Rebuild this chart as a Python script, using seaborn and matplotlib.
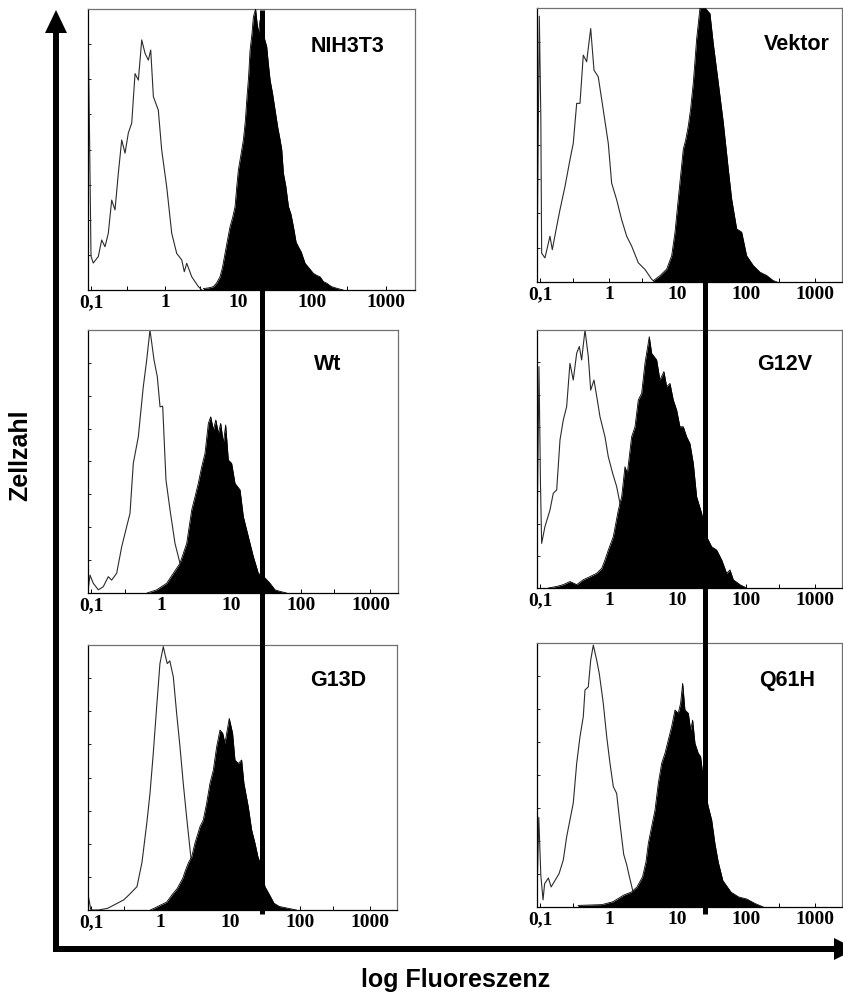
import numpy as np
import pandas as pd
import matplotlib
matplotlib.use("Agg")
import matplotlib.pyplot as plt
import matplotlib.transforms as mtransforms
from matplotlib.lines import Line2D
from matplotlib.ticker import NullFormatter
import seaborn as sns

sns.set_theme(style="white")
plt.rcParams["font.family"] = ["Liberation Sans", "DejaVu Sans"]
plt.rcParams["text.color"] = "black"
plt.rcParams["xtick.color"] = "black"
plt.rcParams["ytick.color"] = "black"
plt.rcParams["axes.labelcolor"] = "black"

# ---------------- data (log10 fluorescence, relative cell count) ----------------
tick_values = [0.1, 1, 10, 100, 1000]
tick_labels = ["0,1", "1", "10", "100", "1000"]
panel_names = ["NIH3T3", "Vektor", "Wt", "G12V", "G13D", "Q61H"]
threshold = [28, 25]   # left column, right column

nih_ctrl_log = [-1.040, -1.025, -1.005, -0.974, -0.906, -0.860, -0.815, -0.770, -0.724, -0.679, -0.634,
                -0.588, -0.543, -0.498, -0.452, -0.407, -0.362, -0.316, -0.271, -0.226, -0.194, -0.158,
                -0.091, -0.045, 0.023, 0.091, 0.159, 0.227, 0.262, 0.295, 0.363, 0.453, 0.500]
nih_ctrl_cnt = [85, 55, 12, 9.6, 11.9, 17.8, 15.4, 20.2, 32, 28.5, 41.5, 53.4, 48.7, 55.9, 59.4, 77, 74.7,
                89, 84.2, 81.8, 85.4, 68.8, 64, 49.8, 36.7, 20.2, 13, 10.7, 6.5, 9.5, 4.7, 1.2, 0]
nih_stain_log = [0.520, 0.600, 0.657, 0.700, 0.747, 0.780, 0.815, 0.850, 0.883, 0.920, 0.951, 0.975, 0.996,
                 1.030, 1.064, 1.090, 1.110, 1.135, 1.155, 1.180, 1.200, 1.230, 1.250, 1.268, 1.290, 1.313,
                 1.345, 1.381, 1.405, 1.427, 1.460, 1.495, 1.530, 1.563, 1.585, 1.608, 1.640, 1.676, 1.710,
                 1.744, 1.780, 1.811, 1.850, 1.902, 1.950, 2.015, 2.060, 2.106, 2.150, 2.197, 2.260, 2.333,
                 2.420]
nih_stain_cnt = [0.5, 0.8, 1.2, 2.5, 4.7, 8, 13, 18, 22.5, 26, 29.7, 37, 42.7, 48, 53.4, 60, 67.6, 76, 85.4,
                 91, 97.2, 100, 95, 91.3, 96, 93.7, 90, 86.6, 80, 74.7, 70, 64, 58, 53.4, 50, 41.5, 37, 29.7,
                 27, 22.5, 17, 15.4, 13.5, 9.5, 8, 5.9, 5.2, 4.7, 3.0, 2.4, 1.2, 0.6, 0]

vek_ctrl_log = [-1.040, -1.012, -0.990, -0.978, -0.930, -0.857, -0.823, -0.759, -0.711, -0.638, -0.566,
                -0.518, -0.468, -0.420, -0.372, -0.323, -0.264, -0.216, -0.154, -0.081, -0.008, 0.041,
                0.114, 0.187, 0.260, 0.332, 0.429, 0.526, 0.623, 0.670]
vek_ctrl_cnt = [20, 97, 60, 10.5, 8.8, 16.7, 11.8, 20.3, 26.4, 34.9, 44.6, 50.6, 65.2, 65.2, 82.8, 80.4, 92.5,
                77.3, 74.9, 62.8, 50.6, 36.1, 30, 22.7, 16.7, 13.1, 7, 4.6, 1, 0]
vek_stain_log = [0.647, 0.744, 0.842, 0.915, 0.963, 1.011, 1.084, 1.120, 1.157, 1.190, 1.230, 1.278, 1.327,
                 1.400, 1.472, 1.520, 1.593, 1.666, 1.739, 1.788, 1.861, 1.934, 2.006, 2.103, 2.200, 2.297,
                 2.394, 2.450]
vek_stain_cnt = [0.5, 2.3, 4.7, 9.6, 18.1, 30.3, 48.5, 52, 57, 63, 72.8, 88.6, 100, 100, 98, 87.1, 72.8,
                 58.3, 41.2, 30.3, 19.4, 18.2, 9.6, 6, 3.6, 2.4, 0.5, 0]

wt_ctrl_log = [-1.040, -1.017, -0.970, -0.898, -0.827, -0.755, -0.707, -0.635, -0.563, -0.492, -0.444,
               -0.397, -0.325, -0.254, -0.205, -0.158, -0.100, -0.053, -0.014, 0.024, 0.071, 0.129, 0.200,
               0.272, 0.344, 0.415, 0.460]
wt_ctrl_cnt = [2, 6.8, 3.7, 1.2, 2.4, 6.2, 4.9, 7.5, 17.6, 25.2, 30.3, 49.3, 59.4, 78.4, 88.6, 100, 88.6,
               82.2, 70.8, 71, 43, 31.6, 18.9, 11.3, 6.2, 1, 0]
wt_stain_log = [-0.200, -0.062, 0.081, 0.176, 0.272, 0.368, 0.440, 0.487, 0.534, 0.583, 0.630, 0.678, 0.712,
                0.750, 0.785, 0.821, 0.855, 0.893, 0.926, 0.964, 1.012, 1.060, 1.132, 1.179, 1.250, 1.322,
                1.394, 1.490, 1.561, 1.633, 1.705, 1.800]
wt_stain_cnt = [0, 1.2, 3.7, 7.5, 11.3, 18.9, 31.6, 36.6, 41.7, 48, 53.1, 64.5, 67, 62, 65.8, 60.7, 64.5,
                57, 63.9, 50.6, 49.3, 41.7, 39.2, 29.1, 21.5, 13.9, 7.5, 5.7, 3.7, 1.2, 0.6, 0]

g12v_ctrl_log = [-1.040, -1.017, -0.995, -0.978, -0.930, -0.857, -0.809, -0.759, -0.711, -0.663, -0.614,
                 -0.566, -0.518, -0.468, -0.430, -0.396, -0.347, -0.299, -0.264, -0.216, -0.168, -0.129,
                 -0.056, -0.008, 0.056, 0.114, 0.162, 0.235, 0.308, 0.380, 0.450]
g12v_ctrl_cnt = [30, 85.8, 40, 17.3, 23.8, 30.2, 36.7, 38, 57.4, 65.1, 70.3, 87.1, 80.6, 91, 93.6, 88.4,
                 100, 89.7, 76.7, 80.6, 72.9, 66.4, 58.6, 50.9, 44.4, 39.3, 32.8, 20, 9.7, 2, 0]
g12v_stain_log = [-0.880, -0.759, -0.663, -0.566, -0.468, -0.372, -0.275, -0.178, -0.104, -0.056, -0.008,
                  0.065, 0.138, 0.187, 0.235, 0.269, 0.332, 0.381, 0.429, 0.478, 0.526, 0.589, 0.623, 0.696,
                  0.744, 0.802, 0.842, 0.890, 0.938, 0.987, 1.035, 1.084, 1.133, 1.181, 1.230, 1.278, 1.351,
                  1.424, 1.497, 1.570, 1.643, 1.715, 1.764, 1.812, 1.909, 2.006]
g12v_stain_cnt = [0, 0.6, 1.3, 2.5, 1.3, 3.2, 4.4, 5.7, 7.6, 10.9, 14.7, 19.9, 30.2, 35.4, 47, 44.4, 58.6,
                  62.5, 72.9, 75.5, 87.1, 97.4, 91, 88.4, 80.6, 83.9, 78, 79.3, 72.9, 69, 62.5, 62.5, 58.6,
                  56, 48.3, 35.4, 29, 19.9, 16, 14.7, 10.9, 5.7, 7, 3.2, 1.3, 0]

g13d_ctrl_log = [-1.040, -1.025, -1.005, -0.900, -0.766, -0.533, -0.457, -0.342, -0.270, -0.200, -0.155,
                 -0.108, -0.059, -0.012, 0.036, 0.065, 0.093, 0.130, 0.180, 0.228, 0.276, 0.323, 0.371,
                 0.432, 0.506, 0.560]
g13d_ctrl_cnt = [5, 3, 0, 0, 0.6, 3.8, 5.7, 8.8, 18, 33, 44, 59.1, 76.7, 93, 99.4, 96, 93, 94, 88, 74.2,
                 61.6, 47.8, 35.2, 20, 4, 0]
g13d_stain_log = [-0.150, -0.070, 0.085, 0.160, 0.238, 0.316, 0.355, 0.400, 0.444, 0.491, 0.563, 0.611,
                  0.659, 0.707, 0.755, 0.803, 0.851, 0.890, 0.922, 0.984, 1.032, 1.066, 1.114, 1.162, 1.195,
                  1.257, 1.306, 1.354, 1.397, 1.440, 1.497, 1.551, 1.629, 1.707, 1.857, 1.950]
g13d_stain_cnt = [0, 1, 3, 5.7, 8.2, 12, 15, 18, 20, 25.2, 31.4, 34, 40.3, 47.8, 52.8, 61.6, 67.9, 66.7,
                  62.9, 72.3, 66.7, 56.6, 55.3, 56.6, 47.8, 39, 30.2, 25.2, 20, 17, 8.8, 6.3, 2.5, 1.3, 0.5, 0]

q61h_ctrl_log = [-1.040, -1.020, -0.990, -0.958, -0.935, -0.880, -0.840, -0.725, -0.663, -0.614, -0.566,
                 -0.518, -0.468, -0.420, -0.372, -0.347, -0.299, -0.264, -0.226, -0.177, -0.139, -0.081,
                 -0.031, 0.017, 0.065, 0.114, 0.162, 0.216, 0.260, 0.300, 0.350, 0.410, 0.450]
q61h_ctrl_cnt = [10, 34, 12, 2.7, 8.8, 11, 7.6, 12.6, 17.8, 26.6, 33, 39.3, 54.4, 64.5, 72.1, 82.2, 83.4,
                 93.5, 99.2, 93.5, 88.4, 77.2, 64.5, 54.4, 45.6, 43, 31.7, 20, 16, 11.4, 6, 2.7, 0]
q61h_stain_log = [-0.449, -0.100, 0.060, 0.216, 0.330, 0.410, 0.490, 0.540, 0.575, 0.623, 0.672, 0.720,
                  0.769, 0.817, 0.866, 0.915, 0.963, 1.011, 1.045, 1.075, 1.108, 1.157, 1.191, 1.220, 1.254,
                  1.302, 1.336, 1.366, 1.400, 1.448, 1.497, 1.545, 1.593, 1.660, 1.780, 1.890, 2.010, 2.130,
                  2.250]
q61h_stain_cnt = [0.6, 0.9, 2, 4.5, 5.7, 7.6, 11.4, 17, 24.1, 30.4, 36.7, 46.8, 54.4, 58.2, 63.3, 68.4,
                  74.6, 73.4, 77.2, 84.7, 74.6, 73.4, 67, 70.8, 62, 58.2, 57, 50.6, 44, 38, 33, 24, 17, 10,
                  5.6, 3.8, 3, 1.3, 0]

ctrl_data = [(nih_ctrl_log, nih_ctrl_cnt), (vek_ctrl_log, vek_ctrl_cnt), (wt_ctrl_log, wt_ctrl_cnt),
             (g12v_ctrl_log, g12v_ctrl_cnt), (g13d_ctrl_log, g13d_ctrl_cnt), (q61h_ctrl_log, q61h_ctrl_cnt)]
stain_data = [(nih_stain_log, nih_stain_cnt), (vek_stain_log, vek_stain_cnt), (wt_stain_log, wt_stain_cnt),
              (g12v_stain_log, g12v_stain_cnt), (g13d_stain_log, g13d_stain_cnt),
              (q61h_stain_log, q61h_stain_cnt)]

# ---------------- layout (pixel boxes in the 843x996 canvas) ----------------
W, H = 843, 996
boxes = [  # left, top, right, bottom
    (88, 9, 415, 290), (537, 8, 842, 282),
    (88, 330, 398, 593), (537, 330, 842, 588),
    (88, 645, 397, 910), (537, 643, 842, 907),
]
label_pos = [(348, 47), (797, 45), (328, 365), (785, 365), (338, 680), (787, 680)]

fig = plt.figure(figsize=(W / 100, H / 100), dpi=100)
fig.patch.set_facecolor("white")

# background axes for the big arrows
bg = fig.add_axes([0, 0, 1, 1], zorder=-1)
bg.set_xlim(0, W)
bg.set_ylim(H, 0)
bg.axis("off")
bg.arrow(56, 952, 0, -942, width=6, head_width=22, head_length=23,
         length_includes_head=True, color="black", lw=0)
bg.arrow(53, 949, 803, 0, width=6, head_width=22, head_length=22,
         length_includes_head=True, color="black", lw=0)

axes = []
for i, (l, t, r, b) in enumerate(boxes):
    ax = fig.add_axes([l / W, 1 - b / H, (r - l) / W, (b - t) / H])
    axes.append(ax)
    ax.set_xscale("log")
    ax.set_facecolor("white")

    clog, ccnt = ctrl_data[i]
    slog, scnt = stain_data[i]
    cdf = pd.DataFrame({"fl": 10 ** np.array(clog), "n": ccnt})
    sdf = pd.DataFrame({"fl": 10 ** np.array(slog), "n": scnt})

    sns.lineplot(data=cdf, x="fl", y="n", ax=ax, color="#2b2b2b", lw=0.8,
                 errorbar=None, zorder=2)
    ax.fill_between(sdf["fl"], 0, sdf["n"], color="black", lw=0, zorder=3)
    sns.lineplot(data=sdf, x="fl", y="n", ax=ax, color="black", lw=0.6,
                 errorbar=None, zorder=4)

    ax.set_xlim(0.09, 2480)
    ax.set_ylim(0, 100)
    ax.set_xlabel("")
    ax.set_ylabel("")
    ax.set_xticks(tick_values)
    ax.set_xticklabels(tick_labels, fontfamily="Liberation Serif", fontweight="bold",
                       fontsize=14, color="black")
    ax.set_xticks([0.3, 3, 30, 300], minor=True)
    ax.xaxis.set_minor_formatter(NullFormatter())
    ax.set_yticks(np.linspace(0, 100, 9))
    ax.set_yticklabels([])
    ax.tick_params(axis="x", which="both", direction="in", length=3, width=0.7,
                   pad=3, bottom=True, top=False, colors="black")
    ax.tick_params(axis="y", which="both", direction="in", length=2.5, width=0.6,
                   left=True, right=False)
    for side in ["top", "right"]:
        ax.spines[side].set_color("#707070")
        ax.spines[side].set_linewidth(0.9)
    for side in ["left", "bottom"]:
        ax.spines[side].set_color("black")
        ax.spines[side].set_linewidth(0.9)

    lx, ly = label_pos[i]
    fig.text(lx / W, 1 - ly / H, panel_names[i], fontsize=15.5, fontweight="bold",
             ha="center", va="center", color="black")

# thick threshold lines spanning each column
for ax, val in [(axes[2], threshold[0]), (axes[3], threshold[1])]:
    tr = mtransforms.blended_transform_factory(ax.transData, fig.transFigure)
    fig.add_artist(Line2D([val, val], [1 - 10 / H, 1 - 914 / H], transform=tr,
                          color="black", lw=3.6, solid_capstyle="butt", zorder=5))

fig.text(20 / W, 1 - 455 / H, "Zellzahl", rotation=90, fontsize=18, fontweight="bold",
         ha="center", va="center", color="black")
fig.text(456 / W, 1 - 980 / H, "log Fluoreszenz", fontsize=18, fontweight="bold",
         ha="center", va="center", color="black")

fig.savefig("out.png", dpi=100)
